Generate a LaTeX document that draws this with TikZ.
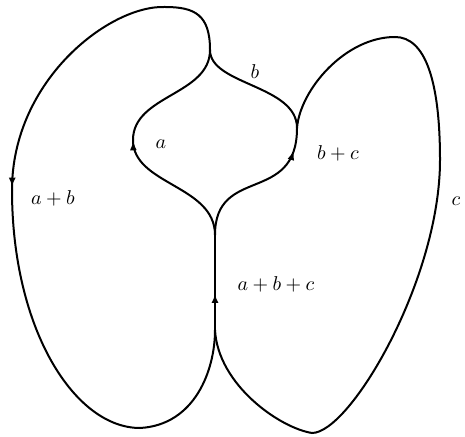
\documentclass[tikz,border=0pt]{standalone}
\usepackage{amsmath}
\usetikzlibrary{calc, positioning, arrows.meta, decorations.markings}

\tikzset{
  strand/.style={line width=1pt},
  midarrow/.style={postaction={decorate,decoration={markings,
    mark=at position #1 with {\arrow{Latex[length=4.5pt,width=3.5pt]}}}}}
}

\begin{document}
\begin{tikzpicture}[x=0.5pt,y=-0.5pt]
\useasboundingbox (0,0) rectangle (465,437);

% Junction points
\coordinate (top) at (210,50);
\coordinate (split) at (297,128);
\coordinate (merge) at (215,235);
\coordinate (foot) at (215,330);
\coordinate (leftmost) at (12,190);
\coordinate (innerleft) at (133,140);

% Outer left loop
\draw[strand, midarrow=0.99] (top) .. controls (210,15) and (195,7) .. (165,7)
  .. controls (110,5) and (12,80) .. (leftmost);
\draw[strand] (leftmost) .. controls (12,330) and (75,428) .. (140,428)
  .. controls (195,425) and (215,370) .. (foot);

% Inner loop
\draw[strand, midarrow=0.99] (merge) .. controls (215,185) and (133,185) .. (innerleft);
\draw[strand] (innerleft) .. controls (133,95) and (210,95) .. (top);
\draw[strand] (top) .. controls (210,85) and (297,85) .. (split);
\draw[strand, midarrow=0.84] (merge) .. controls (215,165) and (297,205) .. (split);

% Outer right loop
\draw[strand] (split) .. controls (300,90) and (345,37) .. (395,37)
  .. controls (425,37) and (440,80) .. (440,160)
  .. controls (440,280) and (350,433) .. (312,433)
  .. controls (280,428) and (218,385) .. (foot);

% Trunk
\draw[strand, midarrow=0.38] (foot) -- (merge);

% Labels
\node (lb) at (255,72) {$b$};
\node (la) at (161,144) {$a$};
\node (lbc) at (338,153) {$b+c$};
\node (lab) at (53,198) {$a+b$};
\node (lc) at (456,201) {$c$};
\node (labc) at (276,284) {$a+b+c$};

\end{tikzpicture}
\end{document}
